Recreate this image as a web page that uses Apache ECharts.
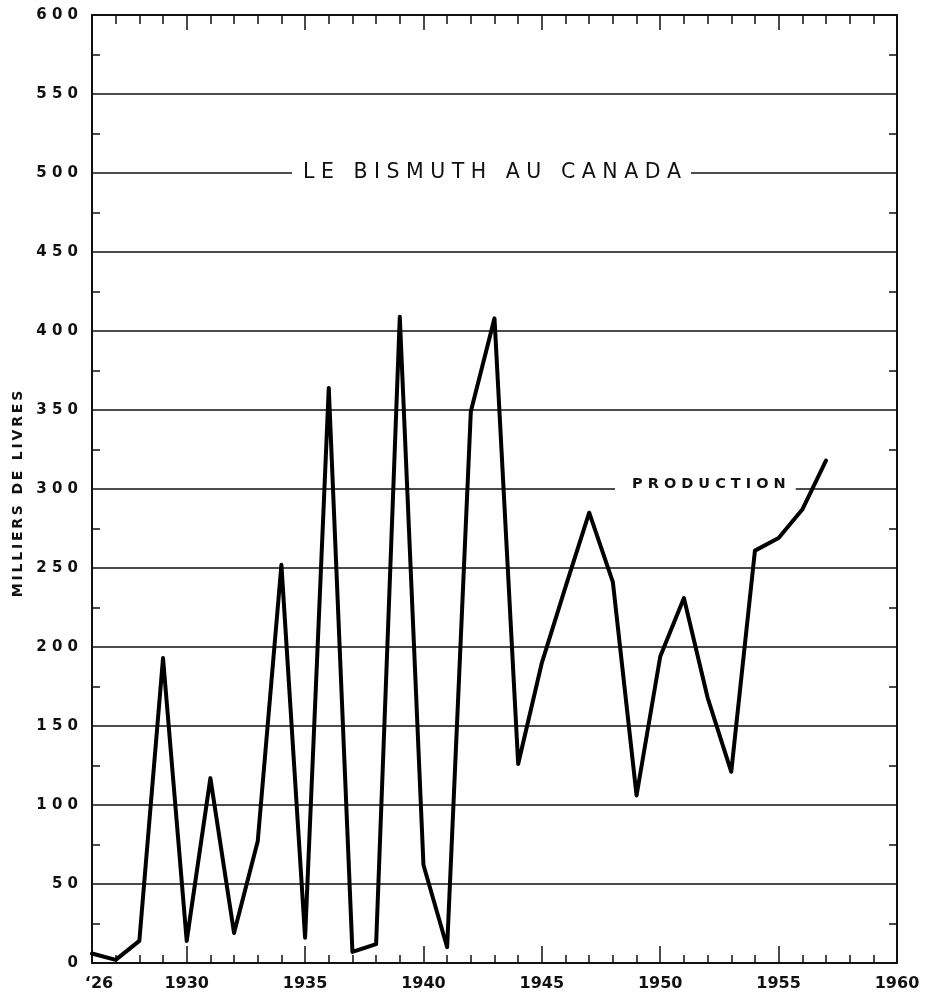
<!DOCTYPE html>
<html>
<head>
<meta charset="utf-8">
<script src="https://cdn.jsdelivr.net/npm/echarts@6/dist/echarts.min.js"></script>
<style>
  html, body { margin: 0; padding: 0; background: #fff; }
  #chart { width: 928px; height: 994px; }
</style>
</head>
<body>
<div id="chart"></div>
<script>
// years on the x axis (1926 - 1960)
const years = ['1926', '1927', '1928', '1929', '1930', '1931', '1932', '1933', '1934', '1935',
  '1936', '1937', '1938', '1939', '1940', '1941', '1942', '1943', '1944', '1945',
  '1946', '1947', '1948', '1949', '1950', '1951', '1952', '1953', '1954', '1955',
  '1956', '1957', '1958', '1959', '1960']
// production, milliers de livres (1926 - 1957)
const production = [6, 2, 14, 193, 14, 117, 19, 77, 252, 16,
  364, 7, 12, 409, 62, 10, 349, 408, 126, 190,
  238, 285, 241, 106, 194, 231, 168, 121, 261, 269,
  287, 318]
const yTicks = [0, 50, 100, 150, 200, 250, 300, 350, 400, 450, 500, 550, 600]

const FONT = 'DejaVu Sans'
const ink = '#111'

// spread letters out like the old lettering
function spaced(s, gap, wordGap) {
  return s.split(' ').map(w => w.split('').join(gap)).join(wordGap)
}

const isMajor = (i, v) => Number(v) % 5 === 0

const xBase = {
  type: 'category',
  data: years,
  boundaryGap: false,
  splitLine: { show: false }
}

const option = {
  backgroundColor: '#fff',
  animation: false,
  title: [
    {
      text: spaced('LE BISMUTH AU CANADA', ' ', '   '),
      left: 481,
      top: 170,
      textAlign: 'center',
      textVerticalAlign: 'middle',
      padding: [3, 10, 3, 11],
      backgroundColor: '#fff',
      textStyle: { fontFamily: FONT, fontSize: 20.5, fontWeight: 'normal', color: ink }
    },
    {
      text: spaced('PRODUCTION', ' ', '  '),
      left: 615,
      top: 482,
      textAlign: 'left',
      textVerticalAlign: 'middle',
      padding: [2, 10, 2, 17],
      backgroundColor: '#fff',
      textStyle: { fontFamily: FONT, fontSize: 14.5, fontWeight: 'bold', color: ink }
    }
  ],
  grid: { left: 92, right: 31, top: 15, bottom: 31 },
  xAxis: [
    Object.assign({}, xBase, {
      position: 'bottom',
      axisLine: { lineStyle: { color: ink, width: 2 } },
      axisTick: { inside: true, length: 8, interval: 0, lineStyle: { color: ink, width: 1.5 } },
      axisLabel: {
        interval: (i, v) => i === 0 || isMajor(i, v),
        margin: 13,
        fontFamily: FONT,
        fontSize: 16,
        fontWeight: 'bold',
        color: ink,
        formatter: v => v === '1926' ? '{a|\u201826}' : v,
        rich: { a: { fontFamily: FONT, fontSize: 16, fontWeight: 'bold', color: ink, padding: [0, 0, 0, 14] } }
      }
    }),
    Object.assign({}, xBase, {
      position: 'bottom',
      axisLine: { show: false },
      axisTick: { inside: true, length: 17, interval: isMajor, lineStyle: { color: ink, width: 1.5 } },
      axisLabel: { show: false }
    }),
    Object.assign({}, xBase, {
      position: 'top',
      axisLine: { lineStyle: { color: ink, width: 2 } },
      axisTick: { inside: true, length: 9, interval: 0, lineStyle: { color: ink, width: 1.5 } },
      axisLabel: { show: false }
    }),
    Object.assign({}, xBase, {
      position: 'top',
      axisLine: { show: false },
      axisTick: { inside: true, length: 15, interval: isMajor, lineStyle: { color: ink, width: 1.5 } },
      axisLabel: { show: false }
    })
  ],
  yAxis: [
    {
      type: 'value',
      position: 'left',
      min: yTicks[0],
      max: yTicks[yTicks.length - 1],
      interval: 50,
      name: spaced('MILLIERS DE LIVRES', '\u2009', ' \u2009\u2009'),
      nameLocation: 'middle',
      nameGap: 63,
      nameRotate: 90,
      nameTextStyle: { fontFamily: FONT, fontSize: 14, fontWeight: 'bold', color: ink, padding: [0, 10, 0, 0] },
      axisLine: { show: true, lineStyle: { color: ink, width: 2 } },
      axisTick: { show: false, inside: true },
      minorTick: { show: true, splitNumber: 2, length: 8, lineStyle: { color: ink, width: 1.5 } },
      splitLine: { show: true, lineStyle: { color: ink, width: 1.5 } },
      axisLabel: {
        margin: 14,
        fontFamily: FONT,
        fontSize: 15,
        fontWeight: 'bold',
        color: ink,
        formatter: v => String(v).split('').join(' ')
      }
    },
    {
      type: 'value',
      position: 'right',
      min: yTicks[0],
      max: yTicks[yTicks.length - 1],
      interval: 50,
      axisLine: { show: true, lineStyle: { color: ink, width: 2 } },
      axisTick: { show: false, inside: true },
      minorTick: { show: true, splitNumber: 2, length: 8, lineStyle: { color: ink, width: 1.5 } },
      splitLine: { show: false },
      axisLabel: { show: false }
    }
  ],
  series: [
    {
      name: 'Production',
      type: 'line',
      xAxisIndex: 0,
      yAxisIndex: 0,
      data: production,
      showSymbol: false,
      symbol: 'none',
      lineStyle: { color: '#000', width: 4, join: 'round', cap: 'round' },
      z: 3
    }
  ]
}

const chart = echarts.init(document.getElementById('chart'))
chart.setOption(option)
</script>
</body>
</html>
